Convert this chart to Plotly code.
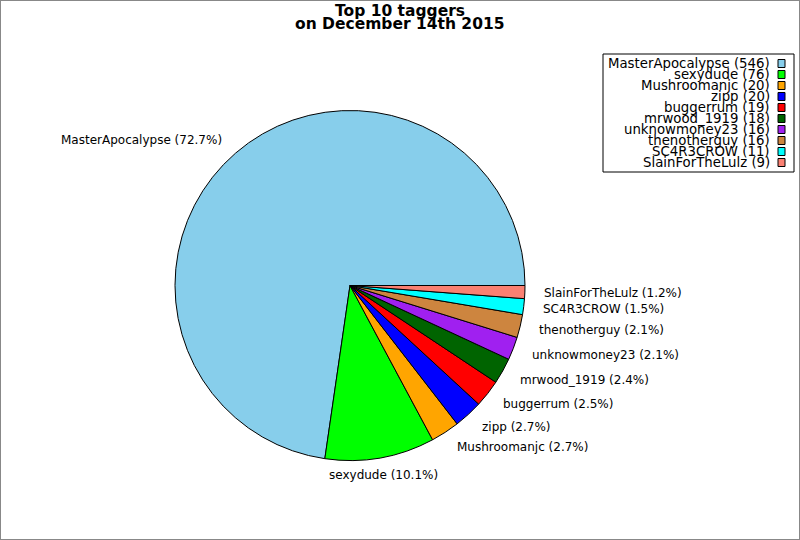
import math
import plotly.graph_objects as go

# top taggers and their tag counts
names = ['MasterApocalypse', 'sexydude', 'Mushroomanjc', 'zipp', 'buggerrum',
         'mrwood_1919', 'unknowmoney23', 'thenotherguy', 'SC4R3CROW', 'SlainForTheLulz']
counts = [546, 76, 20, 20, 19, 18, 16, 16, 11, 9]
colors = ['#87ceeb', '#00ff00', '#ffa500', '#0000ff', '#ff0000',
          '#006400', '#a020f0', '#cd853f', '#00ffff', '#fa8072']

W, H = 800, 540
total = float(sum(counts))
# matplotlib style: first wedge starts at 3 o'clock and goes counterclockwise
rot = 90 - 360 * counts[0] / total

# pie centre and radius in pixels (y from the bottom)
cx, cy, r = 350, 254.5, 175
lab_r = 1.1 * r  # labels sit a bit outside the wedges

fig = go.Figure()
fig.add_trace(go.Pie(
    labels=names,
    values=counts,
    textinfo='none',
    sort=False,
    direction='counterclockwise',
    rotation=rot,
    marker=dict(colors=colors, line=dict(color='black', width=1)),
    domain=dict(x=[(cx - r) / W, (cx + r) / W], y=[(cy - r) / H, (cy + r) / H]),
    showlegend=False,
    hoverinfo='label+value+percent',
))

annotations = []
# wedge labels at 1.1 radius on each wedge's mid angle
cum = 0
for n, c in zip(names, counts):
    theta = math.radians(360 * (cum + c / 2.0) / total)
    cum += c
    ct, st = math.cos(theta), math.sin(theta)
    if ct > 0.2:
        xa = 'left'
    elif ct < -0.2:
        xa = 'right'
    else:
        xa = 'center'
    annotations.append(dict(
        x=(cx + lab_r * ct) / W, y=(cy + lab_r * st) / H,
        xref='paper', yref='paper', xanchor=xa, yanchor='middle',
        showarrow=False, text='%s (%.1f%%)' % (n, 100 * c / total),
        font=dict(size=12)))

# hand made legend (text right aligned, patch on the right)
shapes = [dict(type='rect', xref='paper', yref='paper', x0=0, y0=0, x1=1, y1=1,
               line=dict(color='#888888', width=2)),
          dict(type='rect', xref='paper', yref='paper',
               x0=603 / W, x1=794 / W, y0=1 - 172 / H, y1=1 - 54 / H,
               line=dict(color='black', width=1), fillcolor='white')]
for i, (n, c) in enumerate(zip(names, counts)):
    yc = 63.5 + i * 11
    annotations.append(dict(
        x=772 / W, y=1 - yc / H, xref='paper', yref='paper',
        xanchor='right', yanchor='middle', showarrow=False,
        text='%s (%d)' % (n, c), font=dict(size=13.3)))
    shapes.append(dict(type='rect', xref='paper', yref='paper',
                       x0=778 / W, x1=785 / W,
                       y0=1 - (yc + 4) / H, y1=1 - (yc - 4) / H,
                       fillcolor=colors[i], line=dict(color='black', width=1)))

annotations.append(dict(x=0.5, y=1 - 10.5 / H, xref='paper', yref='paper',
                        xanchor='center', yanchor='middle', showarrow=False,
                        text='<b>Top 10 taggers</b>', font=dict(size=15.5)))
annotations.append(dict(x=0.5, y=1 - 24 / H, xref='paper', yref='paper',
                        xanchor='center', yanchor='middle', showarrow=False,
                        text='<b>on December 14th 2015</b>', font=dict(size=15.5)))

fig.update_layout(
    width=W, height=H,
    margin=dict(l=0, r=0, t=0, b=0),
    paper_bgcolor='white',
    font=dict(family='DejaVu Sans', size=12, color='black'),
    shapes=shapes,
    annotations=annotations,
)

fig.write_html('out.html', config={'displayModeBar': False},
               post_script="document.body.style.margin='0px';")
